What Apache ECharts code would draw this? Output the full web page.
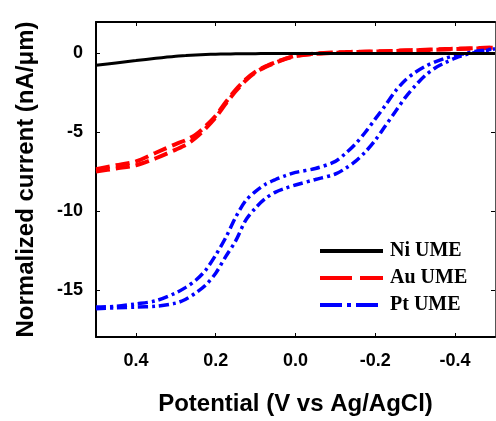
<!DOCTYPE html>
<html>
<head>
<meta charset="utf-8">
<script src="https://cdn.jsdelivr.net/npm/echarts@6/dist/echarts.min.js"></script>
<style>
  html, body { margin: 0; padding: 0; background: #fff; }
  #chart { width: 496px; height: 421px; }
</style>
</head>
<body>
<div id="chart"></div>
<script>
// potential grid (V vs Ag/AgCl), swept from +0.5 to -0.5
const potentials = [0.5, 0.45, 0.4, 0.35, 0.3, 0.275, 0.25, 0.225, 0.2, 0.175, 0.15, 0.125, 0.1, 0.075, 0.05, 0.025, 0,
  -0.05, -0.1, -0.125, -0.15, -0.175, -0.2, -0.225, -0.25, -0.275, -0.3, -0.325, -0.35, -0.375, -0.4, -0.425, -0.45, -0.475, -0.5]

const niCurrent = [-0.75, -0.6, -0.45, -0.3, -0.17, -0.13, -0.09, -0.06, -0.04, -0.03, -0.02, -0.01, -0.01, 0, 0, 0, 0,
  0, 0, 0, 0, 0, 0, 0, 0, 0, 0, 0, 0, 0, 0, 0, 0, 0, 0]

const auForward = [-7.35, -7.1, -6.85, -6.3, -5.75, -5.5, -5.15, -4.6, -3.95, -3.1, -2.3, -1.65, -1.15, -0.82, -0.56, -0.32, -0.15,
  0.0, 0.07, 0.09, 0.11, 0.12, 0.13, 0.15, 0.17, 0.2, 0.22, 0.24, 0.26, 0.28, 0.3, 0.32, 0.34, 0.36, 0.37]
const auReverse = [-7.5, -7.3, -7.1, -6.65, -6.1, -5.8, -5.35, -4.75, -4.05, -3.2, -2.4, -1.72, -1.2, -0.85, -0.58, -0.34, -0.17,
  -0.02, 0.05, 0.07, 0.09, 0.1, 0.12, 0.14, 0.16, 0.18, 0.2, 0.22, 0.24, 0.26, 0.28, 0.3, 0.32, 0.35, 0.37]

const ptForward = [-16.1, -16.05, -15.9, -15.7, -15.2, -14.85, -14.4, -13.75, -12.8, -11.7, -10.4, -9.35, -8.75, -8.3, -8.0, -7.75, -7.55,
  -7.3, -6.85, -6.35, -5.75, -5.0, -4.15, -3.3, -2.4, -1.7, -1.2, -0.82, -0.53, -0.3, -0.13, 0.0, 0.13, 0.22, 0.31]
const ptReverse = [-16.2, -16.15, -16.1, -16.05, -15.85, -15.6, -15.2, -14.7, -13.95, -12.9, -11.9, -10.6, -9.8, -9.2, -8.8, -8.55, -8.35,
  -8.0, -7.65, -7.3, -6.85, -6.25, -5.5, -4.6, -3.7, -2.8, -2.05, -1.4, -0.92, -0.58, -0.3, -0.08, 0.06, 0.18, 0.3]

const xTicks = [0.4, 0.2, 0, -0.2, -0.4]
const yTicks = [0, -5, -10, -15]
const legendNames = ['Ni UME', 'Au UME', 'Pt UME']

const pairs = (ys) => potentials.map((x, i) => [x, ys[i]])

const sansBold = { fontFamily: 'Liberation Sans, Arial, sans-serif', fontWeight: 'bold', color: '#000' }
const frameLine = { onZero: false, lineStyle: { color: '#000', width: 2 } }
const tickIn = (values) => ({ show: true, inside: true, length: 4, customValues: values, lineStyle: { color: '#000', width: 1 } })

const niStyle = { color: '#000000', width: 3, type: 'solid' }
const auStyle = { color: '#ff0000', width: 4, type: [14, 6] }
const ptStyle = { color: '#0000ff', width: 3.5, type: [10, 4, 3, 4] }

function curve(name, ys, style) {
  return {
    name,
    type: 'line',
    data: pairs(ys),
    symbol: 'none',
    smooth: 0.3,
    lineStyle: style,
    itemStyle: { color: style.color },
    z: name === 'Ni UME' ? 3 : 2
  }
}

const chart = echarts.init(document.getElementById('chart'))
chart.setOption({
  animation: false,
  grid: { left: 96, top: 22, width: 399, height: 318 },
  legend: {
    orient: 'vertical',
    left: 313,
    top: 235,
    itemWidth: 63,
    itemHeight: 10,
    itemGap: 5,
    itemStyle: { opacity: 0 },
    lineStyle: { width: 4 },
    textStyle: {
      fontFamily: 'Liberation Serif, Times New Roman, serif', fontWeight: 'bold', fontSize: 20,
      color: '#000', lineHeight: 22, padding: [0, 0, 0, 2]
    },
    data: [
      { name: legendNames[0] },
      { name: legendNames[1], lineStyle: { type: [32, 8] } },
      { name: legendNames[2], lineStyle: { type: [22, 5, 4, 5] } }
    ]
  },
  xAxis: [
    {
      type: 'value',
      min: -0.5,
      max: 0.5,
      inverse: true,
      name: 'Potential (V vs Ag/AgCl)',
      nameLocation: 'middle',
      nameGap: 55,
      nameTextStyle: { ...sansBold, fontSize: 24 },
      axisLine: frameLine,
      axisTick: tickIn(xTicks),
      axisLabel: { ...sansBold, fontSize: 18, margin: 15, customValues: xTicks, formatter: (v) => v.toFixed(1) },
      splitLine: { show: false }
    },
    {
      type: 'value',
      position: 'top',
      min: -0.5,
      max: 0.5,
      inverse: true,
      axisLine: frameLine,
      axisTick: tickIn(xTicks),
      axisLabel: { show: false },
      splitLine: { show: false }
    }
  ],
  yAxis: [
    {
      type: 'value',
      min: -18,
      max: 2,
      name: 'Normalized current (nA/\u03bcm)',
      nameLocation: 'middle',
      nameGap: 58,
      nameTextStyle: { ...sansBold, fontSize: 24 },
      axisLine: { show: true, ...frameLine },
      axisTick: tickIn(yTicks),
      axisLabel: { ...sansBold, fontSize: 18, margin: 13, customValues: yTicks },
      splitLine: { show: false }
    },
    {
      type: 'value',
      position: 'right',
      min: -18,
      max: 2,
      axisLine: { show: true, onZero: false, lineStyle: { color: '#555', width: 1 } },
      axisTick: tickIn(yTicks),
      axisLabel: { show: false },
      splitLine: { show: false }
    }
  ],
  series: [
    curve('Ni UME', niCurrent, niStyle),
    curve('Au UME', auForward, auStyle),
    curve('Au UME', auReverse, auStyle),
    curve('Pt UME', ptForward, ptStyle),
    curve('Pt UME', ptReverse, ptStyle)
  ]
})
</script>
</body>
</html>
